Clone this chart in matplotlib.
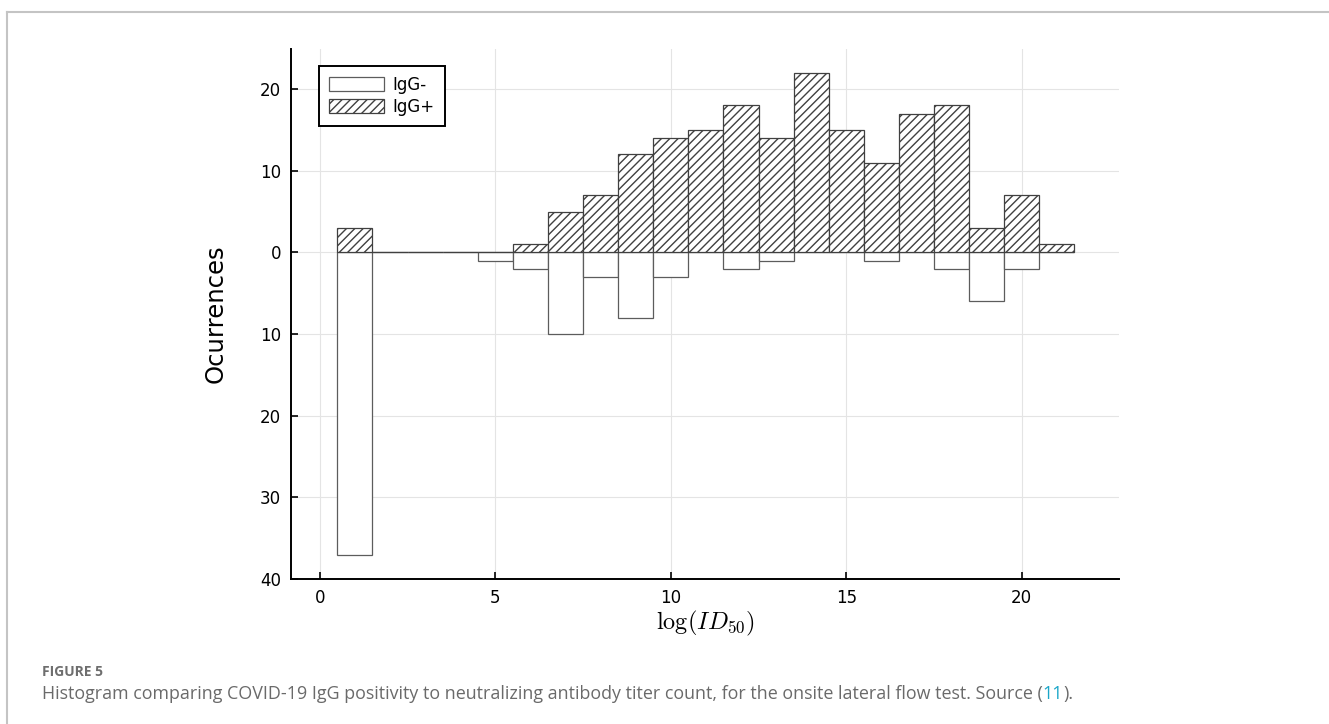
import matplotlib
matplotlib.use("Agg")
import matplotlib.pyplot as plt
from matplotlib.patches import Patch
from matplotlib.lines import Line2D

# histogram counts per log(ID50) bin
bins = list(range(1, 22))
igg_pos = [3, 0, 0, 0, 0, 1, 5, 7, 12, 14, 15, 18, 14, 22, 15, 11, 17, 18, 3, 7, 1]
igg_neg = [37, 0, 0, 0, 1, 2, 10, 3, 8, 3, 0, 2, 1, 0, 0, 1, 0, 2, 6, 2, 0]
yticks = [-40, -30, -20, -10, 0, 10, 20]
ytick_labels = [str(abs(t)) for t in yticks]
xticks = [0, 5, 10, 15, 20]

plt.rcParams['hatch.linewidth'] = 1.0
plt.rcParams['mathtext.fontset'] = 'cm'

W, H = 1329, 724
fig = plt.figure(figsize=(W / 100, H / 100), dpi=100)
ax = fig.add_axes([291 / W, 1 - 579 / H, 828 / W, 530 / H])

edge = '#5c5c5c'
ax.bar(bins, [-v for v in igg_neg], width=1.0, facecolor='white',
       edgecolor=edge, linewidth=0.9, zorder=2)
ax.bar(bins, igg_pos, width=1.0, facecolor='white', edgecolor='#404040',
       hatch='////', linewidth=0.9, zorder=2)

ax.set_xlim(-0.82, 22.77)
ax.set_ylim(-40, 24.9)
ax.set_xticks(xticks)
ax.set_yticks(yticks)
ax.set_yticklabels(ytick_labels)
ax.grid(True, color='#e4e4e4', linewidth=0.8, zorder=0)
ax.set_axisbelow(True)

for s in ['top', 'right']:
    ax.spines[s].set_visible(False)
for s in ['left', 'bottom']:
    ax.spines[s].set_linewidth(1.4)
    ax.spines[s].set_color('black')
ax.tick_params(direction='in', length=5, width=1.2, labelsize=12,
               colors='black', pad=7)

ax.set_ylabel('Ocurrences', fontsize=17.5)
ax.yaxis.set_label_coords(-0.076, 0.5)
ax.set_xlabel(r'$\log(ID_{50})$', fontsize=17.5)
ax.xaxis.set_label_coords(0.5, -0.056)

handles = [Patch(facecolor='white', edgecolor=edge, linewidth=0.9, label='IgG-'),
           Patch(facecolor='white', edgecolor='#404040', hatch='////', linewidth=0.9, label='IgG+')]
leg = ax.legend(handles=handles, loc='upper left', bbox_to_anchor=(0.034, 0.968),
                borderaxespad=0, fontsize=12, handlelength=3.3, handleheight=0.95,
                labelspacing=0.22, handletextpad=0.5, borderpad=0.6,
                fancybox=False, framealpha=1, edgecolor='black')
leg.get_frame().set_linewidth(1.4)

# page frame and caption
fig.add_artist(Line2D([7 / W, 1], [1 - 12 / H, 1 - 12 / H], color='#c4c4c4', lw=1.5))
fig.add_artist(Line2D([7 / W, 7 / W], [0, 1 - 12 / H], color='#c4c4c4', lw=1.5))

fig.text(42 / W, 1 - 676 / H, 'FIGURE 5', fontsize=10, fontweight='bold',
         color='#6e6e6e', family='Open Sans', va='baseline')
cap = fig.text(42 / W, 1 - 699 / H,
               'Histogram comparing COVID-19 IgG positivity to neutralizing antibody titer count, '
               'for the onsite lateral flow test. Source (',
               fontsize=12.9, color='#6a6a6a', family='Open Sans', va='baseline')
fig.canvas.draw()
bb = cap.get_window_extent()
ref = fig.text(bb.x1 / W, 1 - 699 / H, '11', fontsize=12.9, color='#1aa6c8',
               family='Open Sans', va='baseline')
fig.canvas.draw()
bb2 = ref.get_window_extent()
fig.text(bb2.x1 / W, 1 - 699 / H, ').', fontsize=12.9, color='#6a6a6a',
         family='Open Sans', va='baseline')

fig.savefig('out.png', dpi=100)
